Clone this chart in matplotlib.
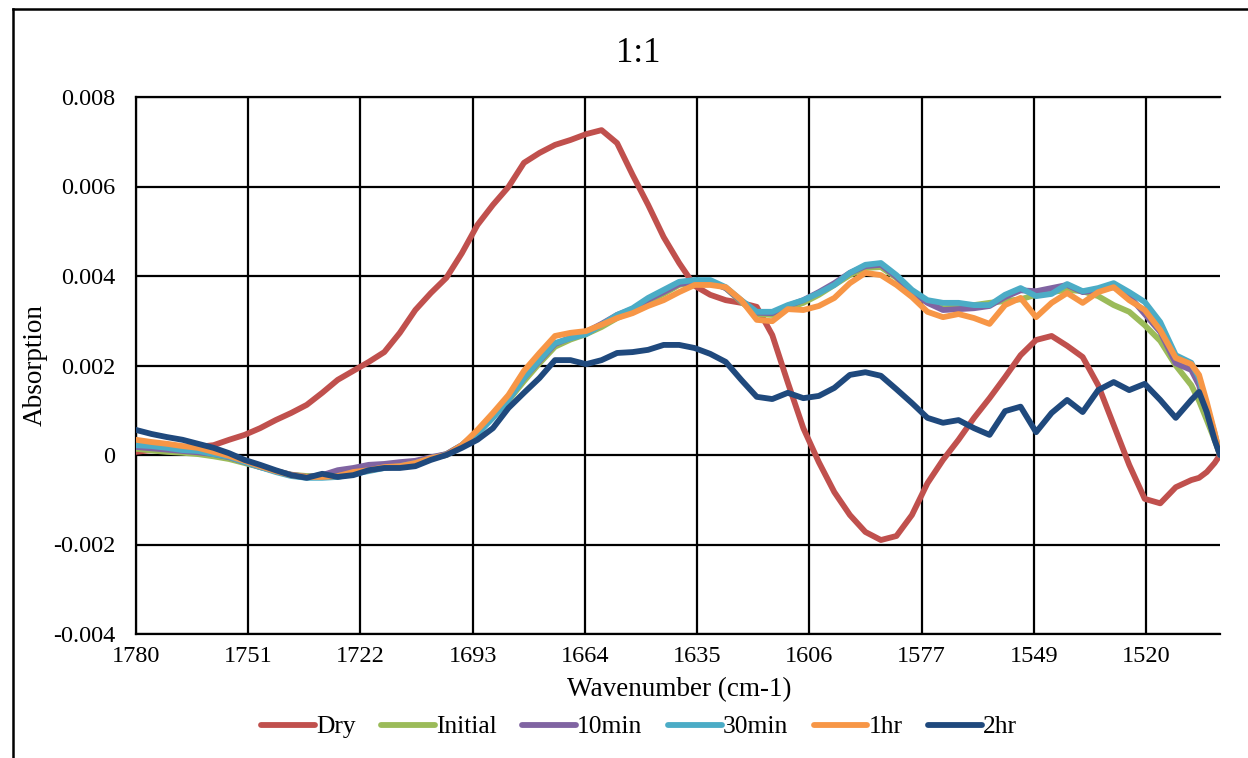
import numpy as np
import matplotlib
matplotlib.use('Agg')
import matplotlib.pyplot as plt
from matplotlib.lines import Line2D

plt.rcParams['font.family'] = ['Liberation Serif', 'DejaVu Serif']

# wavenumber (cm-1)
wavenumber = [1780, 1776, 1772, 1768, 1764, 1760, 1756, 1752, 1748, 1744,
              1740, 1736, 1732, 1728, 1724, 1720, 1716, 1712, 1708, 1704,
              1700, 1696, 1692, 1688, 1684, 1680, 1676, 1672, 1668, 1664,
              1660, 1656, 1652, 1648, 1644, 1640, 1636, 1632, 1628, 1624,
              1620, 1616, 1612, 1608, 1604, 1600, 1596, 1592, 1588, 1584,
              1580, 1576, 1572, 1568, 1564, 1560, 1556, 1552, 1548, 1544,
              1540, 1536, 1532, 1528, 1524, 1520, 1516, 1512, 1508, 1506,
              1504, 1502, 1500.6]

# absorption values in units of 0.001
dry = [0.07, 0.11, 0.13, 0.16, 0.18, 0.22, 0.34, 0.45, 0.60, 0.78,
       0.94, 1.12, 1.39, 1.68, 1.88, 2.08, 2.30, 2.73, 3.24, 3.62,
       3.96, 4.51, 5.14, 5.59, 5.99, 6.53, 6.75, 6.93, 7.04, 7.17,
       7.26, 6.97, 6.26, 5.59, 4.87, 4.29, 3.78, 3.58, 3.46, 3.40,
       3.31, 2.68, 1.62, 0.60, -0.16, -0.83, -1.34, -1.72, -1.90, -1.81,
       -1.34, -0.63, -0.11, 0.34, 0.83, 1.27, 1.74, 2.23, 2.57, 2.66,
       2.44, 2.19, 1.56, 0.67, -0.22, -0.98, -1.08, -0.72, -0.56, -0.51,
       -0.38, -0.18, 0.0]

initial = [0.14, 0.10, 0.07, 0.05, 0.02, -0.03, -0.09, -0.18, -0.27, -0.36,
           -0.44, -0.47, -0.47, -0.44, -0.38, -0.31, -0.27, -0.22, -0.16, -0.07,
           0.02, 0.22, 0.52, 0.86, 1.22, 1.65, 2.05, 2.42, 2.58, 2.70,
           2.86, 3.06, 3.22, 3.42, 3.60, 3.80, 3.86, 3.87, 3.73, 3.42,
           3.15, 3.13, 3.28, 3.40, 3.58, 3.80, 4.02, 4.18, 4.20, 3.96,
           3.64, 3.42, 3.28, 3.30, 3.35, 3.40, 3.44, 3.48, 3.58, 3.64,
           3.69, 3.66, 3.55, 3.35, 3.20, 2.90, 2.55, 2.00, 1.56, 1.21,
           0.78, 0.34, 0.0]

min10 = [0.18, 0.15, 0.12, 0.09, 0.06, 0.02, -0.05, -0.16, -0.27, -0.36,
         -0.44, -0.49, -0.45, -0.34, -0.29, -0.22, -0.20, -0.16, -0.13, -0.05,
         0.02, 0.22, 0.52, 0.88, 1.25, 1.72, 2.10, 2.48, 2.62, 2.75,
         2.93, 3.13, 3.26, 3.47, 3.64, 3.82, 3.87, 3.87, 3.73, 3.44,
         3.18, 3.17, 3.33, 3.46, 3.64, 3.84, 4.07, 4.22, 4.25, 3.98,
         3.64, 3.40, 3.24, 3.26, 3.28, 3.33, 3.53, 3.68, 3.66, 3.73,
         3.80, 3.64, 3.69, 3.75, 3.55, 3.15, 2.75, 2.05, 1.90, 1.56,
         0.96, 0.38, 0.0]

min30 = [0.22, 0.20, 0.16, 0.11, 0.09, 0.02, -0.04, -0.16, -0.27, -0.38,
         -0.47, -0.51, -0.51, -0.49, -0.42, -0.36, -0.29, -0.25, -0.18, -0.07,
         0.00, 0.18, 0.47, 0.83, 1.23, 1.72, 2.12, 2.50, 2.61, 2.70,
         2.91, 3.13, 3.28, 3.51, 3.69, 3.87, 3.91, 3.91, 3.75, 3.46,
         3.20, 3.20, 3.35, 3.46, 3.62, 3.80, 4.07, 4.25, 4.29, 4.02,
         3.69, 3.46, 3.40, 3.40, 3.35, 3.35, 3.58, 3.73, 3.55, 3.60,
         3.82, 3.66, 3.73, 3.84, 3.64, 3.42, 2.97, 2.23, 2.06, 1.72,
         1.09, 0.49, 0.0]

hr1 = [0.34, 0.29, 0.25, 0.20, 0.16, 0.07, -0.02, -0.13, -0.25, -0.36,
       -0.45, -0.49, -0.49, -0.47, -0.38, -0.34, -0.27, -0.25, -0.18, -0.07,
       0.00, 0.22, 0.56, 0.94, 1.34, 1.88, 2.28, 2.66, 2.73, 2.77,
       2.91, 3.06, 3.17, 3.33, 3.46, 3.64, 3.80, 3.80, 3.75, 3.46,
       3.02, 2.99, 3.26, 3.24, 3.33, 3.51, 3.84, 4.07, 4.02, 3.80,
       3.53, 3.20, 3.08, 3.15, 3.06, 2.93, 3.35, 3.51, 3.08, 3.40,
       3.62, 3.40, 3.64, 3.75, 3.46, 3.24, 2.79, 2.17, 2.03, 1.79,
       1.18, 0.51, 0.0]

hr2 = [0.56, 0.47, 0.40, 0.34, 0.25, 0.16, 0.04, -0.11, -0.22, -0.34,
       -0.45, -0.51, -0.42, -0.49, -0.45, -0.34, -0.29, -0.29, -0.25, -0.11,
       0.00, 0.16, 0.34, 0.60, 1.05, 1.39, 1.72, 2.12, 2.12, 2.03,
       2.12, 2.28, 2.30, 2.35, 2.46, 2.46, 2.39, 2.26, 2.08, 1.68,
       1.30, 1.25, 1.39, 1.27, 1.32, 1.50, 1.79, 1.85, 1.77, 1.47,
       1.16, 0.83, 0.72, 0.78, 0.60, 0.45, 0.98, 1.08, 0.51, 0.94,
       1.23, 0.96, 1.45, 1.63, 1.45, 1.59, 1.23, 0.83, 1.23, 1.41,
       0.96, 0.34, 0.0]

series_names = ['Dry', 'Initial', '10min', '30min', '1hr', '2hr']
series_values = [dry, initial, min10, min30, hr1, hr2]
colors = ['#C0504D', '#9BBB59', '#8064A2', '#4BACC6', '#F79646', '#1F497D']

x_tick_labels = ['1780', '1751', '1722', '1693', '1664', '1635', '1606',
                 '1577', '1549', '1520']
x_tick_step = 28.93
y_ticks = [-0.004, -0.002, 0, 0.002, 0.004, 0.006, 0.008]
y_tick_labels = ['-0.004', '-0.002', '0', '0.002', '0.004', '0.006', '0.008']

W, H = 1248, 758
fig = plt.figure(figsize=(W / 100, H / 100), dpi=100)
ax = fig.add_axes([136 / W, 1 - 634 / H, (1220 - 136) / W, (634 - 97) / H])

for name, vals, c in zip(series_names, series_values, colors):
    ax.plot(wavenumber, np.array(vals) * 1e-3, color=c, lw=4.2, label=name,
            solid_capstyle='round', solid_joinstyle='round', zorder=3)

ax.set_xlim(1780, 1500.6)
ax.set_ylim(-0.004, 0.008)
ax.set_xticks([1780 - x_tick_step * k for k in range(len(x_tick_labels))])
ax.set_xticklabels(x_tick_labels)
ax.set_yticks(y_ticks)
ax.set_yticklabels(y_tick_labels)
ax.grid(True, color='black', lw=1.6)
ax.set_axisbelow(True)
ax.spines['right'].set_visible(False)
for s in ['left', 'bottom', 'top']:
    ax.spines[s].set_linewidth(1.6)
    ax.spines[s].set_color('black')
ax.tick_params(axis='both', length=0, labelsize=17.5)
ax.tick_params(axis='x', pad=9)
ax.tick_params(axis='y', pad=15)

fig.text(638 / W, 1 - 53 / H, '1:1', ha='center', va='center', fontsize=25)
fig.text(35 / W, 1 - 365 / H, 'Absorption', rotation=90, ha='center',
         va='center', fontsize=19.5)
fig.text(679 / W, 1 - 690 / H, 'Wavenumber (cm-1)', ha='center',
         va='center', fontsize=19.5)

handles, labels = ax.get_legend_handles_labels()
fig.legend(handles, labels, loc='center', bbox_to_anchor=(639 / W, 1 - 727 / H),
           ncol=6, frameon=False, fontsize=18.4, handlelength=2.1,
           handletextpad=0.05, columnspacing=1.0)

# outer chart border (only left and top visible in the reference)
fig.add_artist(Line2D([13 / W, 13 / W], [0, 1 - 9 / H], color='black', lw=1.8))
fig.add_artist(Line2D([13 / W, 1], [1 - 9 / H, 1 - 9 / H], color='black', lw=1.8))

fig.savefig('out.png', dpi=100)
